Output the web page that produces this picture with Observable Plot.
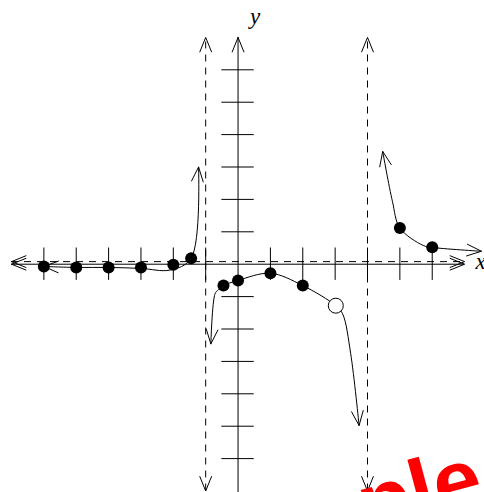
<!DOCTYPE html>
<html>
<head>
<meta charset="utf-8">
<script src="https://cdn.jsdelivr.net/npm/d3@7"></script>
<script src="https://cdn.jsdelivr.net/npm/@observablehq/plot@0.6"></script>
<style>
  html, body { margin: 0; padding: 0; background: #fff; overflow: hidden; }
  #chart { width: 484px; height: 492px; overflow: hidden; }
</style>
</head>
<body>
<div id="chart"></div>
<script>
// Axis ticks (the origin is left unmarked)
const xTicks = [-6, -5, -4, -3, -2, -1, 1, 2, 3, 4, 5, 6];
const yTicks = [-6, -5, -4, -3, -2, -1, 1, 2, 3, 4, 5, 6];
const axisExtent = 7;

// Asymptotes
const verticalAsymptotes = [-1, 4];
const horizontalAsymptote = 0.08;

// Sketched branches of the graph, listed in drawing order (both ends carry arrows)
const leftBranch = [[-6, -0.07], [-5, -0.1], [-4, -0.1], [-3, -0.13], [-2.1, -0.18], [-1.45, 0.18], [-1.22, 3.0]];
const middleBranch = [[-0.84, -2.46], [-0.71, -0.91], [-0.61, -0.79], [-0.45, -0.66], [0, -0.5], [1, -0.28], [2, -0.66], [3.02, -1.28], [3.23, -1.53], [3.48, -2.76], [3.74, -4.98]];
const rightBranch = [[4.47, 3.48], [4.77, 1.94], [5.0, 1.12], [5.72, 0.58], [5.99, 0.52], [7.52, 0.4]];

// Plotted points
const solidX = [-6, -5, -4, -3, -2, -1.45, -0.45, 0, 1, 2, 5, 6];
const solidY = [-0.07, -0.1, -0.1, -0.1, -0.02, 0.18, -0.66, -0.5, -0.28, -0.66, 1.12, 0.52];
const openX = [3.02];
const openY = [-1.28];

const xDomain = [-7.34, 7.615];
const yDomain = [-7.046, 8.139];
const W = 484, H = 492;
const kx = W / (xDomain[1] - xDomain[0]);
const ky = H / (yDomain[1] - yDomain[0]);
const tickHalf = 0.5;
const headLength = 16;
const headHalfAngle = 22 * Math.PI / 180;

// Two open wings at `tip`, pointing away from `from` (computed in pixel space)
function arrowHead(tip, from) {
  const dx = (tip[0] - from[0]) * kx, dy = (tip[1] - from[1]) * ky;
  const len = Math.hypot(dx, dy);
  const ux = dx / len, uy = dy / len;
  return [-1, 1].map(s => {
    const c = Math.cos(s * headHalfAngle), sn = Math.sin(s * headHalfAngle);
    const rx = ux * c - uy * sn, ry = ux * sn + uy * c;
    return {x1: tip[0], y1: tip[1], x2: tip[0] - rx * headLength / kx, y2: tip[1] - ry * headLength / ky};
  });
}

const firstTwo = b => [b[0], b[1]];
const lastTwo = b => [b[b.length - 1], b[b.length - 2]];

const heads = [
  // axes
  ...arrowHead([axisExtent, 0], [0, 0]),
  ...arrowHead([-axisExtent, 0], [0, 0]),
  ...arrowHead([0, axisExtent], [0, 0]),
  ...arrowHead([0, -axisExtent - 0.6], [0, 0]),
  // asymptotes
  ...arrowHead([axisExtent, horizontalAsymptote], [0, horizontalAsymptote]),
  ...arrowHead([-axisExtent, horizontalAsymptote], [0, horizontalAsymptote]),
  ...verticalAsymptotes.flatMap(a => [
    ...arrowHead([a, axisExtent], [a, 0]),
    ...arrowHead([a, -axisExtent], [a, 0])
  ]),
  // branch ends
  ...[leftBranch, middleBranch, rightBranch].flatMap(b => [
    ...arrowHead(...firstTwo(b)),
    ...arrowHead(...lastTwo(b))
  ])
];

const solid = solidX.map((x, i) => ({x, y: solidY[i]}));
const open = openX.map((x, i) => ({x, y: openY[i]}));
const dash = "7,6";
const branchOpts = {x: d => d[0], y: d => d[1], curve: "catmull-rom", stroke: "black", strokeWidth: 1};

const chart = Plot.plot({
  width: W,
  height: H,
  margin: 0,
  x: {domain: xDomain, axis: null},
  y: {domain: yDomain, axis: null},
  marks: [
    // asymptotes
    Plot.ruleX(verticalAsymptotes, {x: d => d, y1: -axisExtent, y2: axisExtent, stroke: "black", strokeDasharray: dash}),
    Plot.ruleY([horizontalAsymptote], {y: d => d, x1: -axisExtent, x2: axisExtent, stroke: "black", strokeDasharray: dash}),
    // axes and ticks
    Plot.ruleY([0], {x1: -axisExtent, x2: axisExtent, stroke: "black"}),
    Plot.ruleX([0], {y1: -axisExtent - 0.6, y2: axisExtent, stroke: "black"}),
    Plot.ruleX(xTicks, {x: d => d, y1: -tickHalf, y2: tickHalf, stroke: "black"}),
    Plot.ruleY(yTicks, {y: d => d, x1: -tickHalf, x2: tickHalf, stroke: "black"}),
    // graph
    Plot.line(leftBranch, branchOpts),
    Plot.line(middleBranch, branchOpts),
    Plot.line(rightBranch, branchOpts),
    Plot.link(heads, {x1: "x1", y1: "y1", x2: "x2", y2: "y2", stroke: "black", strokeWidth: 1}),
    Plot.dot(solid, {x: "x", y: "y", r: 6, fill: "black", stroke: "none"}),
    Plot.dot(open, {x: "x", y: "y", r: 7.5, fill: "white", stroke: "black", strokeWidth: 1}),
    // axis names
    Plot.text(["y"], {x: () => 0, frameAnchor: "top", lineAnchor: "top", dx: 17, dy: 7,
      fontFamily: "Liberation Serif", fontStyle: "italic", fontSize: 23, fill: "black"}),
    Plot.text(["x"], {y: () => 0, frameAnchor: "right", textAnchor: "start", lineAnchor: "middle", dx: -9, dy: -2.5,
      fontFamily: "Liberation Serif", fontStyle: "italic", fontSize: 23, fill: "black"})
  ]
});

// Watermark stamp
d3.select(chart).append("text")
  .attr("transform", "translate(487,503) rotate(-15)")
  .attr("text-anchor", "end")
  .attr("font-family", "Liberation Sans, Arial, sans-serif")
  .attr("font-weight", "bold")
  .attr("font-size", 86)
  .attr("fill", "#ff0000")
  .text("Sample");

document.getElementById("chart").append(chart);
</script>
</body>
</html>
